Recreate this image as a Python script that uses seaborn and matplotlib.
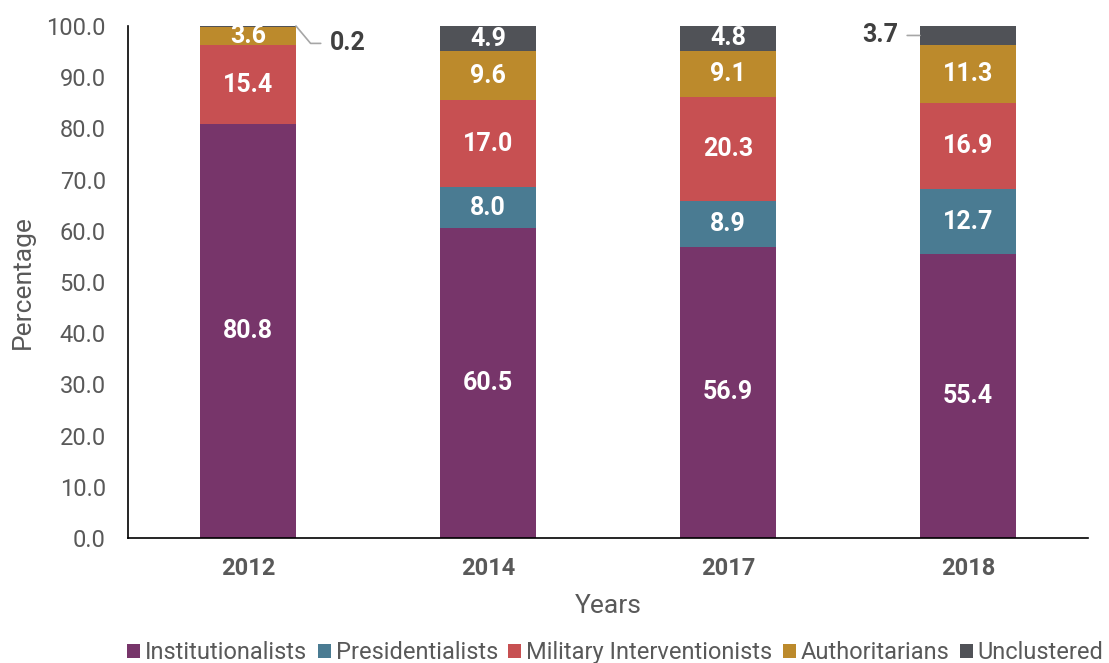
import numpy as np
import pandas as pd
import matplotlib
matplotlib.use("Agg")
import matplotlib.pyplot as plt
import seaborn as sns
from matplotlib.patches import Patch

years = ["2012", "2014", "2017", "2018"]
series = ["Institutionalists", "Presidentialists", "Military Interventionists", "Authoritarians", "Unclustered"]
institutionalists = [80.8, 60.5, 56.9, 55.4]
presidentialists = [0.0, 8.0, 8.9, 12.7]
military = [15.4, 17.0, 20.3, 16.9]
authoritarians = [3.6, 9.6, 9.1, 11.3]
unclustered = [0.2, 4.9, 4.8, 3.7]
colors = ["#77356A", "#4A7B92", "#C75052", "#BC8A2C", "#505257"]

values = [institutionalists, presidentialists, military, authoritarians, unclustered]

sns.set_theme(style="white")
plt.rcParams["font.family"] = ["Roboto", "DejaVu Sans"]

fig = plt.figure(figsize=(11.09, 6.63), dpi=100)
ax = fig.add_axes([0.1154, 0.1885, 0.8656, 0.7723])

cum = np.cumsum(np.array(values), axis=0)
df_rows = []
for i, s in enumerate(series):
    for j, y in enumerate(years):
        df_rows.append({"Year": y, "Series": s, "Top": cum[i, j], "Value": values[i][j]})
df = pd.DataFrame(df_rows)

# draw from top layer down so each lower cumulative bar covers the previous
for i in reversed(range(len(series))):
    sub = df[df["Series"] == series[i]]
    sns.barplot(data=sub, x="Year", y="Top", color=colors[i], width=0.4,
                saturation=1, ax=ax, linewidth=0, order=years)

ax.set_ylim(0, 100)
ax.set_xlim(-0.5, 3.5)
ax.set_yticks(np.arange(0, 101, 10))
ax.set_yticklabels([f"{v:.1f}" for v in np.arange(0, 101, 10)], fontsize=17, color="#595959")
ax.set_xticks(range(len(years)))
ax.set_xticklabels(years, fontsize=17, color="#595959", fontweight="bold")
ax.tick_params(axis="x", length=0, pad=14)
ax.tick_params(axis="y", length=0, pad=16)
ax.set_ylabel("Percentage", fontsize=19, color="#595959", labelpad=8)
ax.set_xlabel("Years", fontsize=19, color="#595959", labelpad=10)
for sp in ["top", "right"]:
    ax.spines[sp].set_visible(False)
for sp in ["left", "bottom"]:
    ax.spines[sp].set_color("#000000")
    ax.spines[sp].set_linewidth(1.2)

# data labels
for i in range(len(series)):
    for j in range(len(years)):
        v = values[i][j]
        if v <= 0:
            continue
        bottom = cum[i, j] - v
        if i == 4 and years[j] in ("2012", "2018"):
            continue
        ax.text(j, bottom + v / 2, f"{v:.1f}", ha="center", va="center",
                color="white", fontsize=18, fontweight="bold")

# callouts
j = years.index("2012")
ax.annotate(f"{unclustered[j]:.1f}", xy=(j + 0.2, 100), xytext=(j + 0.34, 96.6),
            fontsize=18, fontweight="bold", color="#404040", va="center", ha="left",
            arrowprops=dict(arrowstyle="-", color="#A6A6A6", lw=1.2,
                            connectionstyle="angle,angleA=0,angleB=-50,rad=0",
                            shrinkA=4, shrinkB=0))
j = years.index("2018")
ax.annotate(f"{unclustered[j]:.1f}", xy=(j - 0.2, 100 - unclustered[j] / 2),
            xytext=(j - 0.29, 100 - unclustered[j] / 2),
            fontsize=18, fontweight="bold", color="#404040", va="center", ha="right",
            arrowprops=dict(arrowstyle="-", color="#A6A6A6", lw=1.2, shrinkA=4, shrinkB=0))

handles = [Patch(facecolor=c, edgecolor="none") for c in colors]
fig.legend(handles, series, loc="lower center", bbox_to_anchor=(0.555, -0.034), ncol=5,
           frameon=False, fontsize=17, handlelength=0.55, handleheight=0.55,
           handletextpad=0.2, columnspacing=0.45, labelcolor="#595959")

fig.savefig("out.png", dpi=100)
